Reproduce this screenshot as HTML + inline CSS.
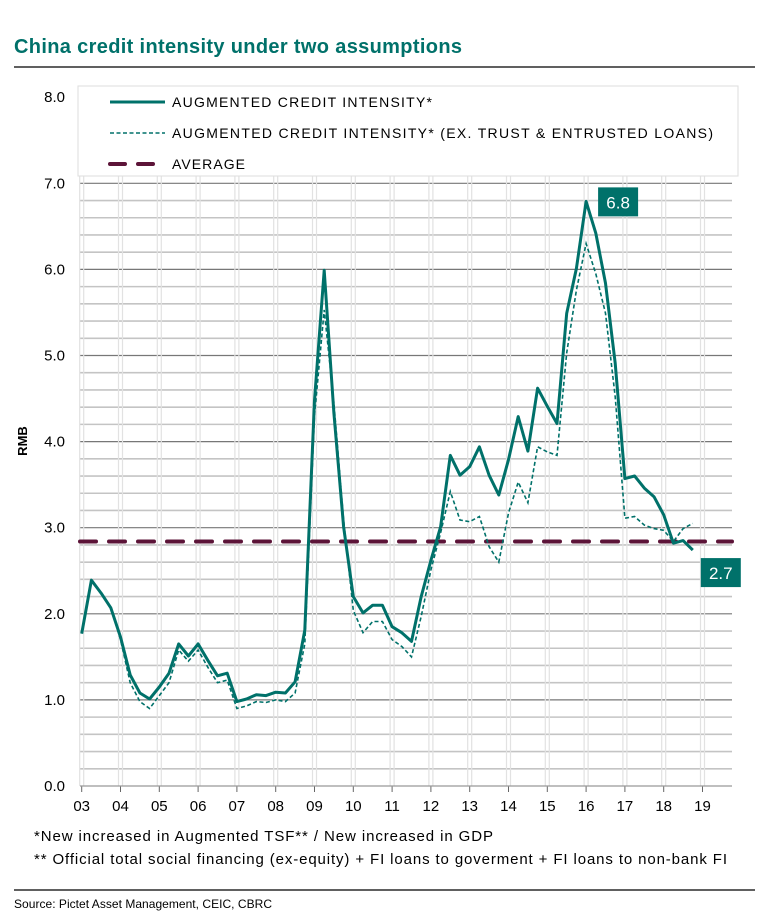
<!DOCTYPE html>
<html><head><meta charset="utf-8"><style>
body{margin:0;background:#fff;width:757px;height:919px;overflow:hidden;font-family:"Liberation Sans",sans-serif}
</style></head><body>
<svg width="757" height="919" viewBox="0 0 757 919" xmlns="http://www.w3.org/2000/svg">
<text x="14" y="53" font-size="20" font-weight="bold" fill="#00716a" textLength="448" lengthAdjust="spacing">China credit intensity under two assumptions</text>
<line x1="14" y1="67" x2="755" y2="67" stroke="#000" stroke-width="1.2"/>
<g id="grid"></g>
<g id="yticks"></g>
<g id="xticks"></g>
<text x="27" y="441" font-size="13" font-weight="bold" transform="rotate(-90 27 441)" text-anchor="middle">RMB</text>
<g id="series"></g>
<g>
<rect x="78" y="86" width="660" height="90" fill="#fff" stroke="#ddd"/>
<line x1="110" y1="102" x2="165" y2="102" stroke="#00716a" stroke-width="3"/>
<text x="172" y="107" font-size="14" textLength="260" lengthAdjust="spacing">AUGMENTED CREDIT INTENSITY*</text>
<line x1="110" y1="133" x2="165" y2="133" stroke="#00716a" stroke-width="1.5" stroke-dasharray="4,2.5"/>
<text x="172" y="138" font-size="14" textLength="541" lengthAdjust="spacing">AUGMENTED CREDIT INTENSITY* (EX. TRUST &amp; ENTRUSTED LOANS)</text>
<line x1="110" y1="164" x2="155" y2="164" stroke="#5c1438" stroke-width="4" stroke-dasharray="15,13" stroke-linecap="round"/>
<text x="172" y="169" font-size="14" textLength="73" lengthAdjust="spacing">AVERAGE</text>
</g>
<g id="labels"></g>
<text x="34" y="841" font-size="15" textLength="459" lengthAdjust="spacing">*New increased in Augmented TSF** / New increased in GDP</text>
<text x="34" y="864" font-size="15" textLength="693" lengthAdjust="spacing">** Official total social financing (ex-equity) + FI loans to goverment + FI loans to non-bank FI</text>
<line x1="14" y1="890" x2="755" y2="890" stroke="#000" stroke-width="1.2"/>
<text x="14" y="908" font-size="12" textLength="258" lengthAdjust="spacing">Source: Pictet Asset Management, CEIC, CBRC</text>
</svg>
<script>
const years = ["03","04","05","06","07","08","09","10","11","12","13","14","15","16","17","18","19"];
const yTicks = [0,1,2,3,4,5,6,7,8];
const solid = [1.77,2.39,2.24,2.07,1.73,1.29,1.08,1.01,1.15,1.31,1.65,1.51,1.65,1.46,1.28,1.31,0.98,1.01,1.06,1.05,1.09,1.08,1.21,1.81,
4.48,5.99,4.33,3.01,2.2,2.01,2.1,2.1,1.85,1.78,1.68,2.2,2.62,3.01,3.84,3.61,3.71,3.94,3.61,3.38,
3.79,4.29,3.89,4.62,4.41,4.21,5.49,6.01,6.79,6.42,5.84,4.91,3.57,3.6,3.46,3.36,3.15,2.82,2.85,2.74];
const dashed = [1.77,2.39,2.24,2.07,1.7,1.2,0.98,0.9,1.05,1.2,1.58,1.45,1.58,1.38,1.2,1.23,0.9,0.93,0.98,0.97,1.0,0.98,1.08,1.65,
4.3,5.53,4.45,3.09,2.04,1.78,1.91,1.91,1.7,1.62,1.5,1.97,2.51,2.94,3.42,3.09,3.07,3.13,2.78,2.6,
3.17,3.53,3.29,3.94,3.88,3.84,5.03,5.76,6.3,5.95,5.49,4.52,3.11,3.13,3.03,2.99,2.97,2.84,2.99,3.05];
const average = [2.84];
const callouts = [{idx:52,text:"6.8"},{idx:63,text:"2.7"}];

const NS="http://www.w3.org/2000/svg";
const X0=81.7, YEARW=38.8, Y0=786, YU=86.1, XL=80, XR=732;
const xq=i=>X0+i*YEARW/4;
const xy=k=>X0+k*YEARW;
const yv=v=>Y0-v*YU;
function mk(tag,attrs,parent,txt){const e=document.createElementNS(NS,tag);for(const k in attrs)e.setAttribute(k,attrs[k]);if(txt!==undefined)e.textContent=txt;parent.appendChild(e);return e;}
const grid=document.getElementById('grid'),yt=document.getElementById('yticks'),xt=document.getElementById('xticks'),ser=document.getElementById('series'),lab=document.getElementById('labels');
for(let v=0.2;v<8.01;v+=0.2){const major=Math.abs(v-Math.round(v))<0.01;
 const l=mk('line',{x1:XL,x2:XR,y1:yv(v),y2:yv(v),stroke:major?'#777':'#c4c4c4','stroke-width':major?1.2:1.6},grid);
 
 }
years.forEach((y,k)=>{[-2,2].forEach(d=>{const l=mk('line',{x1:xy(k)+d,x2:xy(k)+d,y1:yv(8),y2:Y0,stroke:'#e2e2e2','stroke-width':1.2},grid);
 
 });
 const t=mk('line',{x1:xy(k),x2:xy(k),y1:Y0,y2:Y0+6,stroke:'#666'},xt);
 
 
 const tx=mk('text',{x:xy(k),y:Y0+25,'font-size':15,'text-anchor':'middle'},xt,y);
 
 });
const base=mk('line',{x1:XL,x2:XR,y1:Y0,y2:Y0,stroke:'#999','stroke-width':1.2},xt);


yTicks.forEach(v=>{const t=mk('text',{x:65,y:yv(v)+5,'font-size':15,'text-anchor':'end'},yt,v.toFixed(1));
 
 });
const avg=mk('line',{x1:XL,x2:XR,y1:yv(average[0]),y2:yv(average[0]),stroke:'#5c1438','stroke-width':4,'stroke-dasharray':'16,13','stroke-linecap':'round'},ser);


const pd=dashed.map((v,i)=>xq(i).toFixed(1)+','+yv(v).toFixed(1)).join(' ');
const dl=mk('polyline',{points:pd,fill:'none',stroke:'#00716a','stroke-width':1.6,'stroke-dasharray':'4,2.5'},ser);


const ps=solid.map((v,i)=>xq(i).toFixed(1)+','+yv(v).toFixed(1)).join(' ');
const sl=mk('polyline',{points:ps,fill:'none',stroke:'#00716a','stroke-width':3,'stroke-linejoin':'round'},ser);


callouts.forEach((c,j)=>{const px=xq(c.idx),py=yv(solid[c.idx]);
 const bx=j===0?px+12:px+8, by=j===0?py-14:py+8;
 const r=mk('rect',{x:bx,y:by,width:40,height:29,fill:'#00716a'},lab);
 
 
 const t=mk('text',{x:bx+20,y:by+21,'font-size':17,fill:'#fff','text-anchor':'middle'},lab,c.text);
 
 });
</script>
</body></html>
